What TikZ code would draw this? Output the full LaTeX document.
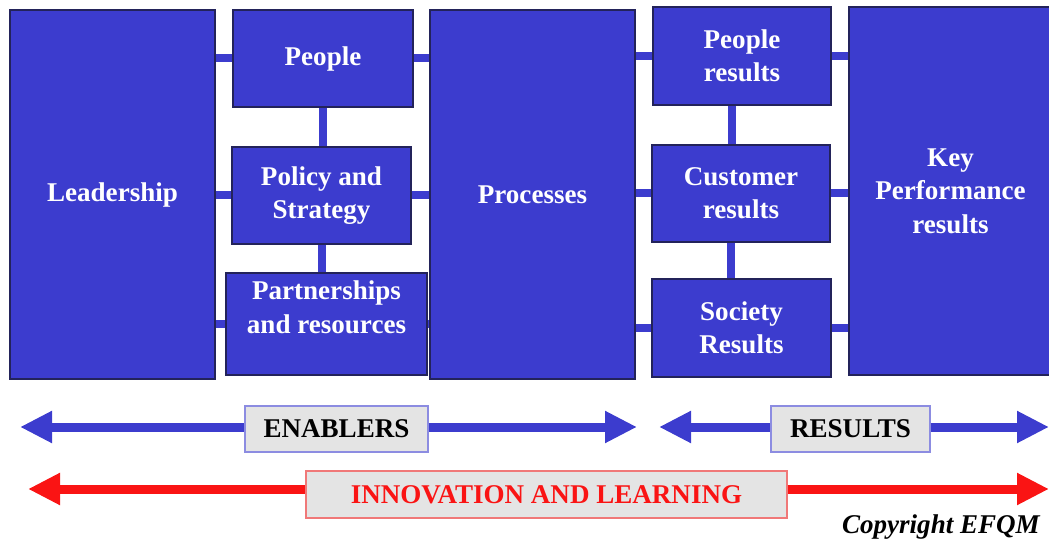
\documentclass[tikz,border=0pt]{standalone}
\usepackage{fontspec}
\setmainfont{Liberation Serif}
\usepackage{tikz}
\usetikzlibrary{arrows.meta}
\definecolor{efqmblue}{RGB}{60,60,206}
\definecolor{efqmedge}{RGB}{35,35,90}
\definecolor{tagfill}{RGB}{228,228,228}
\definecolor{tagblue}{RGB}{140,140,225}
\definecolor{tagred}{RGB}{240,120,120}
\definecolor{efqmred}{RGB}{250,20,20}

\begin{document}
\begin{tikzpicture}[
    crit/.style={draw=efqmedge, line width=0.8pt, fill=efqmblue, text=white, inner sep=0pt,
      align=center, font=\fontsize{15.4}{19}\selectfont\bfseries},
    bar/.style={draw=efqmblue, line width=0.16cm},
    tag/.style={draw=tagblue, line width=0.8pt, fill=tagfill, inner sep=0pt,
      font=\fontsize{15.4}{19}\selectfont\bfseries},
    lhead/.style={{Triangle[width=0.6cm,length=0.64cm]}-},
    rhead/.style={-{Triangle[width=0.6cm,length=0.64cm]}}
  ]
    \useasboundingbox (0,0) rectangle (20.98,-10.86);
    \node[crit, minimum width=4.1cm, minimum height=7.38cm] (lead) at (2.25,-3.89) {Leadership};
    \node[crit, minimum width=3.6cm, minimum height=1.94cm] (people) at (6.46,-1.17) {People};
    \node[crit, minimum width=3.58cm, minimum height=1.94cm] (policy) at (6.43,-3.91) {Policy and\\Strategy};
    \node[crit, minimum width=4.02cm, minimum height=2.04cm] (partner) at (6.53,-6.48) {Partnerships\\and resources\\\mbox{}};
    \node[crit, minimum width=4.1cm, minimum height=7.38cm] (proc) at (10.65,-3.89) {Processes};
    \node[crit, minimum width=3.56cm, minimum height=1.96cm] (presults) at (14.84,-1.12) {People\\results};
    \node[crit, minimum width=3.56cm, minimum height=1.94cm] (cresults) at (14.82,-3.87) {Customer\\results};
    \node[crit, minimum width=3.58cm, minimum height=1.96cm] (sresults) at (14.83,-6.56) {Society\\Results};
    \node[crit, minimum width=4.06cm, minimum height=7.36cm] (kpr) at (19.01,-3.82) {Key\\Performance\\results};

    \draw[bar] (lead.east |- people.west) -- (people.west);
    \draw[bar] (people.east) -- (proc.west |- people.east);
    \draw[bar] (lead.east |- policy.west) -- (policy.west);
    \draw[bar] (policy.east) -- (proc.west |- policy.east);
    \draw[bar] (lead.east |- partner.west) -- (partner.west);
    \draw[bar] (partner.east) -- (proc.west |- partner.east);
    \draw[bar] (people.south) -- (people.south |- policy.north);
    \draw[bar] (policy.south) -- (policy.south |- partner.north);
    \draw[bar] (proc.east |- presults.west) -- (presults.west);
    \draw[bar] (presults.east) -- (kpr.west |- presults.east);
    \draw[bar] (proc.east |- cresults.west) -- (cresults.west);
    \draw[bar] (cresults.east) -- (kpr.west |- cresults.east);
    \draw[bar] (proc.east |- sresults.west) -- (sresults.west);
    \draw[bar] (sresults.east) -- (kpr.west |- sresults.east);
    \draw[bar] ([xshift=-2mm]presults.south) -- ([xshift=-2mm]presults.south |- cresults.north);
    \draw[bar] ([xshift=-2mm]cresults.south) -- ([xshift=-2mm]cresults.south |- sresults.north);

    \node[tag, minimum width=3.66cm, minimum height=0.92cm] (enablers) at (6.73,-8.58) {ENABLERS};
    \node[tag, minimum width=3.18cm, minimum height=0.92cm] (results) at (17.01,-8.58) {RESULTS};
    \node[tag, draw=tagred, text=efqmred, minimum width=9.62cm, minimum height=0.94cm] (innov) at (10.93,-9.89) {INNOVATION AND LEARNING};
    \coordinate (enL) at (0.4,-8.54);
    \coordinate (enR) at (12.74,-8.54);
    \coordinate (reL) at (13.18,-8.54);
    \coordinate (reR) at (20.98,-8.54);
    \coordinate (inL) at (0.56,-9.78);
    \coordinate (inR) at (20.98,-9.78);
    \draw[lhead, efqmblue, line width=0.18cm] (enL) -- (enL -| enablers.west);
    \draw[rhead, efqmblue, line width=0.18cm] (enablers.east |- enR) -- (enR);
    \draw[lhead, efqmblue, line width=0.18cm] (reL) -- (reL -| results.west);
    \draw[rhead, efqmblue, line width=0.18cm] (results.east |- reR) -- (reR);
    \draw[lhead, efqmred, line width=0.18cm] (inL) -- (inL -| innov.west);
    \draw[rhead, efqmred, line width=0.18cm] (innov.east |- inR) -- (inR);

    \node[anchor=east, font=\fontsize{15.4}{19}\selectfont\bfseries\itshape] (copy) at (20.92,-10.54) {Copyright EFQM};
  \end{tikzpicture}
\end{document}
